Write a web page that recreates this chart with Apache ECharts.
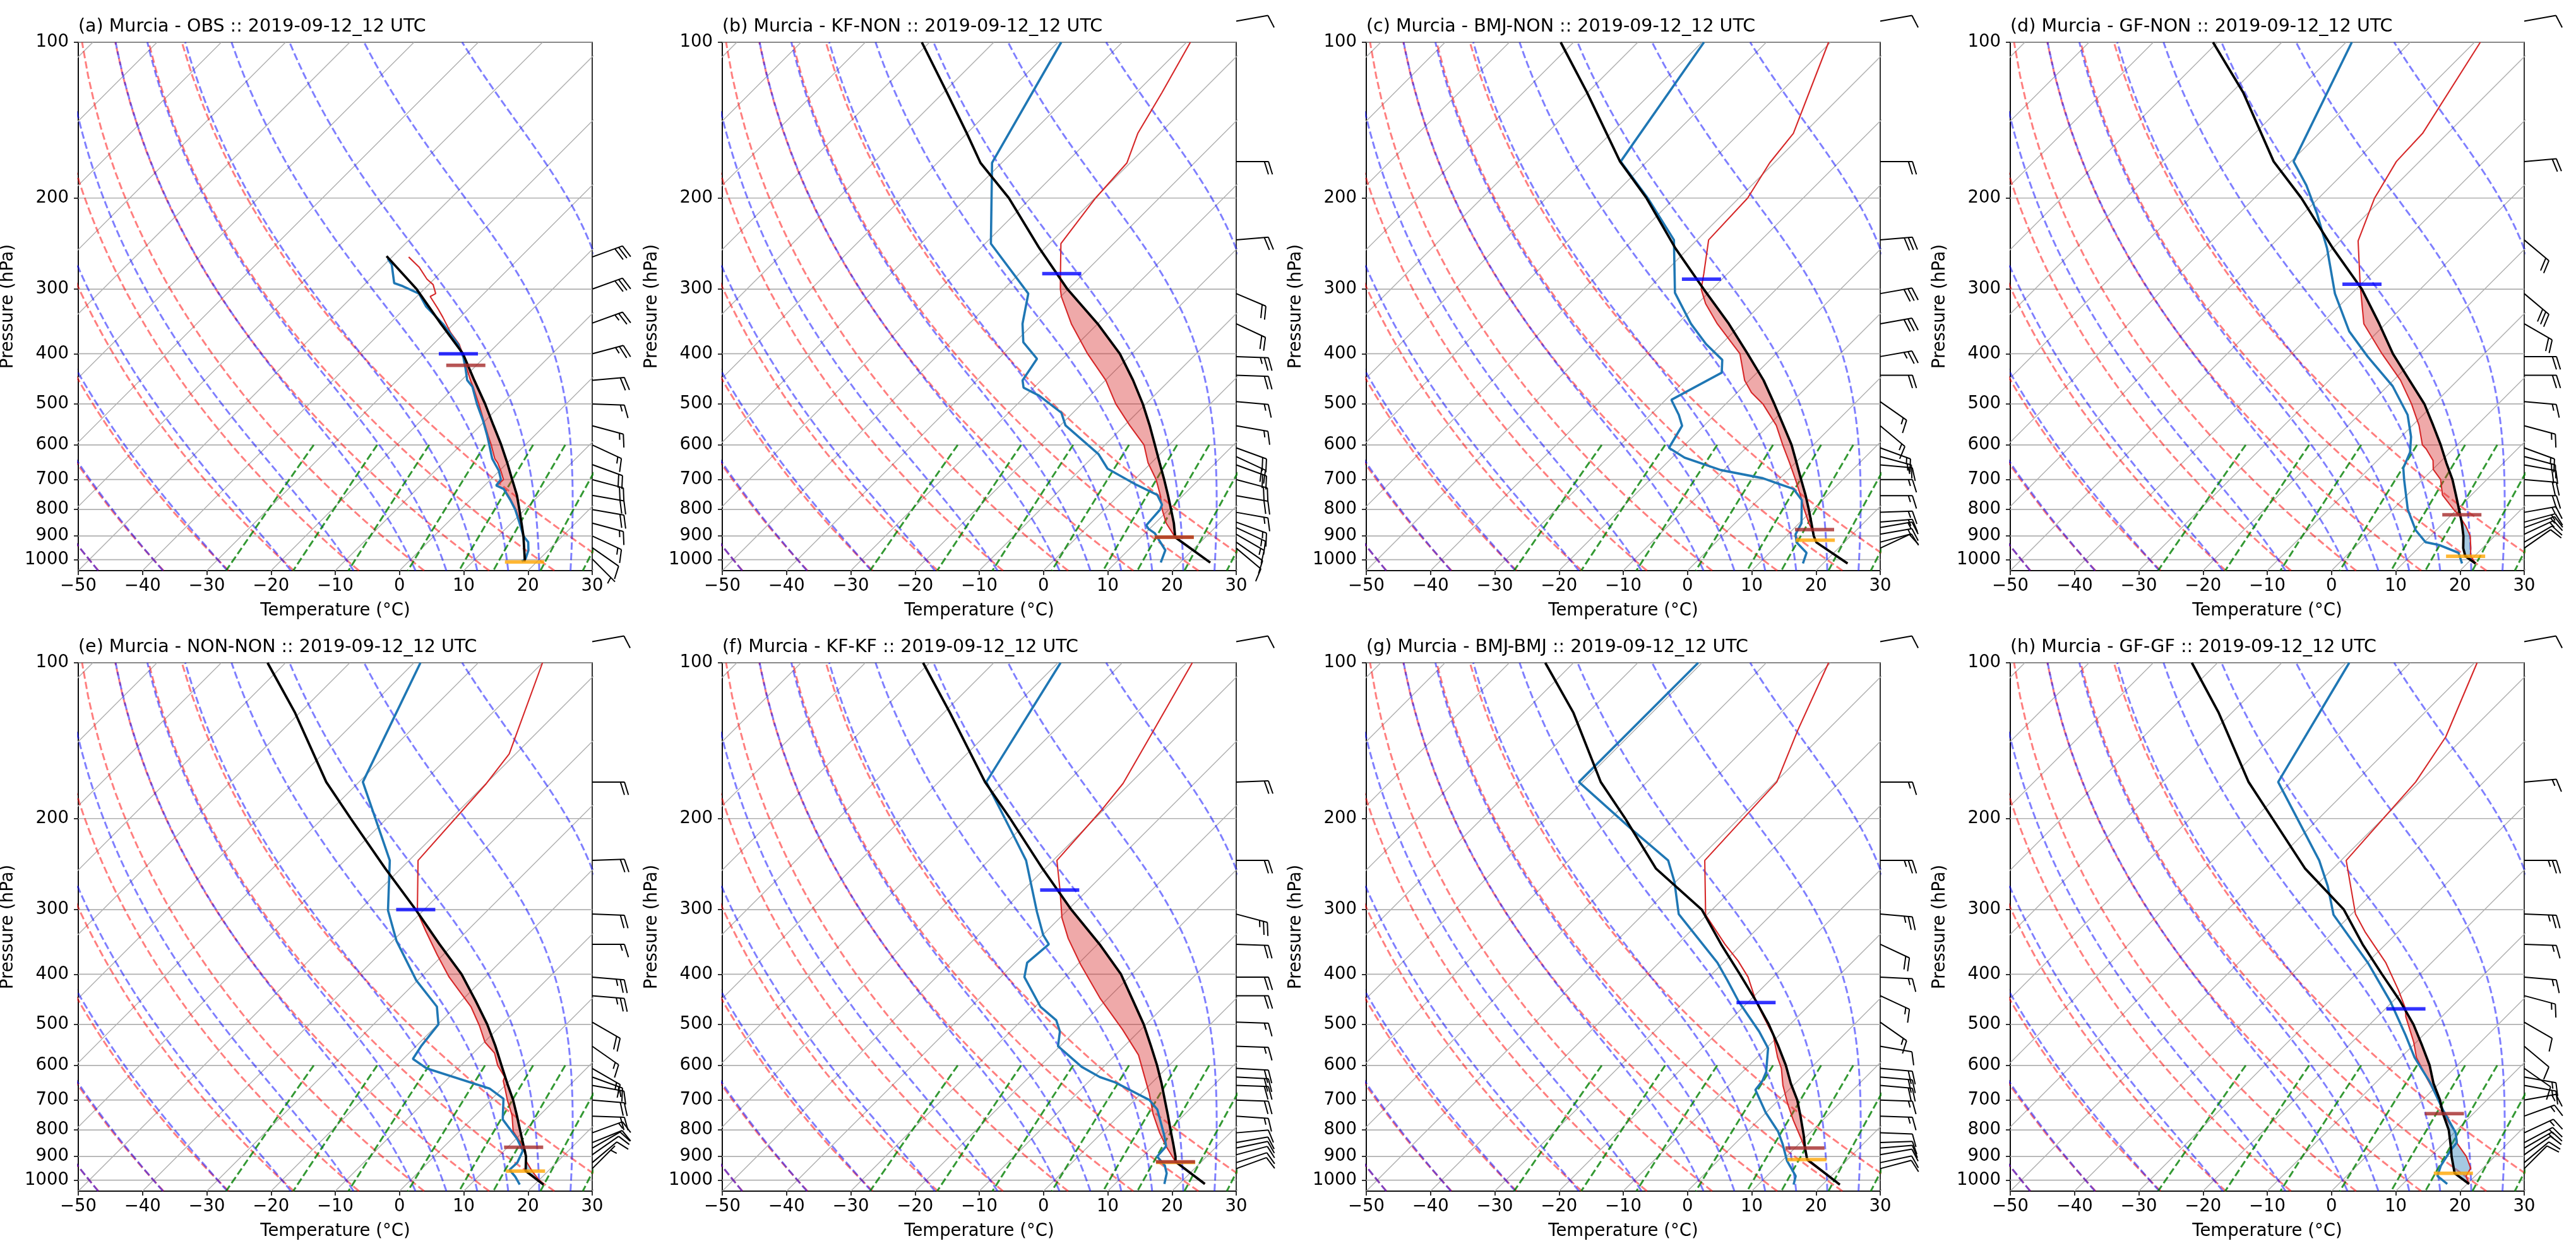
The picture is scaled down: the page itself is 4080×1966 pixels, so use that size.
<!DOCTYPE html>
<html>
<head>
<meta charset="UTF-8">
<title>Murcia skew-T 2019-09-12_12 UTC</title>
<script src="https://cdn.jsdelivr.net/npm/echarts@6.0.0/dist/echarts.min.js"></script>
<style>
  html, body { margin: 0; padding: 0; background: #fff; }
  #main { width: 4080px; height: 1966px; }
</style>
</head>
<body>
<div id="main"></div>
<script>
// ---------------- data (pressure hPa, temperature degC) ----------------
var titles = [
  '(a) Murcia - OBS :: 2019-09-12_12 UTC',
  '(b) Murcia - KF-NON :: 2019-09-12_12 UTC',
  '(c) Murcia - BMJ-NON :: 2019-09-12_12 UTC',
  '(d) Murcia - GF-NON :: 2019-09-12_12 UTC',
  '(e) Murcia - NON-NON :: 2019-09-12_12 UTC',
  '(f) Murcia - KF-KF :: 2019-09-12_12 UTC',
  '(g) Murcia - BMJ-BMJ :: 2019-09-12_12 UTC',
  '(h) Murcia - GF-GF :: 2019-09-12_12 UTC'
];
var pressureTicks = [100, 200, 300, 400, 500, 600, 700, 800, 900, 1000];

var obsTemp = [[1008,18.0],[1000,17.8],[975,16.8],[950,15.9],[925,14.9],[900,13.9],[850,11.5],[800,8.6],[766,6.3],[730,3.6],[719,1.9],[700,2.0],[673,0.2],[650,-1.5],[638,-2.6],[600,-5.3],[576,-7.2],[538,-10.3],[500,-13.6],[463,-17.2],[450,-18.6],[427,-21.0],[406,-23.2],[383,-26.0],[364,-29.1],[340,-32.7],[329,-34.5],[310,-37.9],[306,-37.5],[294,-39.3],[287,-41.1],[272,-44.2],[260,-47.4]];
var obsDew = [[1008,17.6],[997,17.8],[959,16.9],[925,15.6],[900,13.9],[850,11.3],[800,8.5],[766,6.2],[730,3.5],[719,1.8],[700,1.6],[673,-0.1],[638,-3.0],[600,-5.6],[576,-7.35],[538,-10.4],[500,-13.9],[463,-17.3],[450,-19.1],[427,-21.2],[406,-23.3],[383,-26.2],[351,-31.5],[324,-37.0],[306,-40.1],[296,-43.8],[292,-45.6],[269,-48.85],[262,-50.4]];
var obsParcel = [[1008,18.0],[1000,17.8],[950,15.9],[900,13.9],[850,11.6],[800,9.15],[750,6.5],[700,3.35],[650,0.0],[600,-3.74],[550,-8.0],[500,-12.63],[450,-18.0],[400,-23.88],[350,-32.0],[300,-41.16],[259,-50.98]];

var kfNonTemp = [[1013,24.7],[905,15.3],[850,11.7],[800,8.96],[750,6.4],[700,3.35],[650,-0.5],[600,-3.93],[550,-9.2],[500,-14.7],[450,-19.95],[400,-26.9],[350,-34.1],[310,-39.9],[300,-41.2],[280,-43.6],[245,-48.2],[200,-49.9],[171,-50.5],[150,-53.4],[125,-56.0],[100,-59.4]];
var kfNonDew = [[1013,17.0],[959,15.8],[889,11.5],[872,9.85],[858,8.94],[800,8.64],[783,8.18],[750,5.95],[716,1.0],[667,-5.9],[625,-9.6],[550,-19.2],[520,-21.8],[482,-27.9],[465,-31.6],[450,-32.9],[409,-34.0],[380,-38.7],[350,-41.7],[306,-45.5],[245,-59.1],[171,-71.5],[100,-79.5]];
var kfNonParcel = [[1013,24.7],[905,15.3],[850,12.9],[800,10.34],[750,7.6],[700,4.6],[650,1.3],[600,-2.24],[550,-6.1],[500,-10.5],[450,-15.7],[400,-21.88],[350,-30.0],[300,-40.1],[250,-50.85],[200,-63.4],[171,-73.3],[150,-80.0],[125,-89.5],[100,-101.2]];

var bmjNonTemp = [[1017,23.8],[926,15.67],[900,14.26],[875,13.0],[850,11.5],[800,8.66],[750,5.8],[700,2.62],[650,-0.88],[600,-4.75],[550,-8.8],[500,-14.22],[475,-17.8],[450,-20.75],[400,-25.6],[350,-33.8],[320,-38.75],[300,-41.7],[280,-43.7],[241,-48.2],[200,-48.65],[171,-50.7],[150,-51.6],[100,-60.3]];
var bmjNonDew = [[1017,16.85],[970,15.76],[926,12.58],[893,11.16],[850,10.35],[767,6.8],[730,3.8],[713,0.58],[696,-2.65],[671,-10.5],[635,-18.05],[608,-22.0],[551,-23.4],[525,-25.6],[491,-29.1],[465,-27.5],[435,-25.5],[411,-27.4],[383,-32.4],[350,-37.9],[305,-45.2],[241,-53.6],[200,-64.2],[170,-74.1],[100,-79.7]];
var bmjNonParcel = [[1017,23.8],[926,15.67],[900,14.26],[850,11.9],[800,9.37],[750,6.6],[700,3.5],[650,0.2],[600,-3.38],[550,-7.7],[500,-12.44],[450,-17.8],[400,-24.4],[350,-32.0],[300,-41.3],[250,-52.1],[200,-64.4],[170,-74.2],[125,-90.1],[100,-102.0]];

var gfNonTemp = [[1017,21.3],[982,19.3],[948,18.1],[900,16.2],[860,13.9],[819,11.1],[800,9.5],[750,5.5],[700,2.8],[669,0.07],[643,-1.35],[611,-4.2],[600,-5.43],[550,-9.0],[500,-13.5],[450,-18.9],[400,-25.9],[350,-33.4],[300,-39.3],[293,-40.2],[242,-47.2],[200,-51.3],[170,-53.6],[150,-53.9],[100,-59.1]];
var gfNonDew = [[1017,19.2],[970,17.0],[937,12.8],[925,10.2],[877,6.8],[800,2.36],[700,-2.88],[665,-4.8],[620,-6.2],[579,-8.44],[525,-12.4],[462,-19.2],[405,-27.7],[362,-34.5],[306,-42.6],[250,-50.9],[215,-57.7],[189,-63.9],[170,-69.6],[100,-79.1]];
var gfNonParcel = [[1017,21.3],[985,18.6],[950,17.0],[900,15.14],[850,12.9],[800,10.34],[750,7.6],[700,4.64],[650,1.1],[600,-2.58],[550,-6.8],[500,-11.5],[450,-17.5],[400,-24.2],[350,-31.0],[300,-39.1],[250,-50.0],[200,-62.7],[170,-72.7],[125,-88.2],[100,-100.7]];

var nonNonTemp = [[1020,21.4],[993,19.6],[960,17.5],[918,15.0],[877,13.3],[864,12.5],[805,8.4],[749,5.7],[700,2.6],[669,0.7],[643,-1.0],[632,-1.4],[600,-4.3],[568,-6.7],[541,-9.9],[503,-13.3],[462,-17.6],[405,-25.6],[367,-30.9],[330,-36.4],[303,-40.7],[241,-48.6],[171,-49.95],[150,-51.0],[100,-60.0]];
var nonNonDew = [[1020,17.7],[985,15.8],[955,13.8],[925,13.9],[877,12.9],[831,10.1],[763,4.9],[696,1.8],[665,-1.96],[608,-14.9],[583,-18.5],[551,-19.2],[500,-19.9],[462,-22.9],[411,-30.2],[345,-39.4],[301,-45.5],[241,-53.0],[170,-69.4],[100,-79.0]];
var nonNonParcel = [[1020,21.4],[960,16.5],[900,14.3],[867,12.7],[800,9.25],[750,6.5],[700,3.5],[650,0.0],[600,-3.7],[550,-7.7],[500,-12.3],[450,-17.8],[400,-24.1],[350,-32.2],[300,-41.3],[250,-52.4],[200,-65.6],[170,-75.1],[125,-90.7],[100,-102.8]];

var kfKfTemp = [[1017,24.0],[921.6,16.0],[860,12.1],[810,9.0],[744,5.0],[680,1.27],[573,-6.4],[512,-12.8],[446,-21.1],[383,-29.5],[341,-35.5],[311,-39.7],[275,-44.3],[241,-49.4],[192,-50.3],[171,-51.1],[135,-54.6],[100,-59.1]];
var kfKfDew = [[1017,17.7],[970,16.4],[937,14.9],[900,12.3],[860,12.1],[819,10.1],[730,5.0],[700,2.3],[647,-5.8],[632,-9.0],[604,-13.4],[551,-20.3],[516,-22.3],[491,-24.6],[462,-29.2],[405,-36.3],[380,-38.1],[350,-37.6],[336,-39.9],[303,-44.5],[241,-54.2],[215,-60.2],[170,-72.6],[100,-79.6]];
var kfKfParcel = [[1017,24.0],[921.6,16.0],[900,15.15],[850,12.8],[800,10.26],[750,7.6],[700,4.7],[650,1.6],[600,-1.9],[550,-5.9],[500,-10.35],[450,-15.7],[400,-21.7],[350,-29.7],[300,-39.5],[250,-50.35],[200,-63.2],[170,-72.8],[125,-89.0],[100,-101.0]];

var bmjBmjTemp = [[1020,22.7],[918,14.0],[893,12.8],[867,11.55],[831,9.5],[767,5.5],[713,2.07],[656,-1.6],[608,-4.5],[579,-6.8],[525,-10.9],[500,-13.5],[453,-18.7],[405,-23.9],[377,-27.95],[350,-32.6],[307,-40.2],[241,-48.8],[170,-49.8],[135,-54.6],[100,-60.3]];
var bmjBmjDew = [[1020,15.5],[982,14.5],[918,10.8],[850,7.4],[805,4.8],[740,-0.07],[669,-5.2],[643,-5.5],[618,-6.3],[556,-9.7],[516,-13.7],[452,-21.5],[411,-26.6],[380,-30.9],[306,-44.5],[265,-50.2],[241,-54.5],[211,-64.6],[170,-80.6],[100,-80.6]];
var bmjBmjParcel = [[1020,22.7],[912,13.7],[867,11.6],[819,9.4],[750,5.8],[700,2.9],[650,-0.7],[600,-4.27],[550,-8.5],[500,-13.3],[450,-19.0],[400,-25.6],[350,-33.2],[300,-41.6],[250,-55.1],[200,-67.7],[170,-77.2],[125,-92.2],[100,-104.4]];

var gfGfTemp = [[1017,20.3],[982,18.6],[948,18.1],[900,15.6],[850,12.2],[810,10.3],[744,5.3],[700,2.5],[638,-2.5],[579,-7.6],[541,-10.4],[483,-15.6],[466,-16.9],[429,-20.9],[380,-27.1],[332,-35.0],[306,-39.4],[241,-49.2],[170,-50.6],[139,-52.95],[100,-59.6]];
var gfGfDew = [[1017,16.9],[981,14.1],[937,13.05],[877,12.2],[846,11.95],[810,10.25],[730,4.6],[647,-1.6],[579,-7.9],[525,-12.7],[452,-20.3],[380,-29.9],[307,-42.7],[270,-48.1],[241,-53.4],[170,-72.0],[100,-79.5]];
var gfGfParcel = [[1017,20.3],[970,16.4],[965,16.1],[900,13.3],[867,11.9],[800,8.74],[744,5.3],[700,2.7],[650,-0.9],[600,-4.3],[550,-8.5],[500,-13.2],[450,-19.0],[400,-25.9],[350,-33.6],[300,-41.9],[250,-54.3],[200,-67.2],[170,-76.6],[125,-92.0],[100,-104.0]];

// LCL (orange), LFC (brown), EL (blue) per panel, [p, T]
var lclPoints = [[1010,18.1],[905,15.15],[917,15.15],[985,18.64],[960.6,16.5],[924,16.1],[912.5,13.67],[970,16.2]];
var lfcPoints = [[421,-21.65],[905,15.15],[875,13.4],[819,11.6],[864,12.5],[921.6,15.98],[867,11.58],[744,5.52]];
var elPoints  = [[400,-24.6],[280,-43.4],[287,-43.2],[293.5,-39.85],[300,-41.3],[275,-44.35],[453.5,-18.7],[466.5,-16.8]];

// wind barbs: pressure, direction (deg, from), speed (kt)
var obsBarbP   = [260,300,349,400,450,500,551,600,655,700,751,800,850,900,948,997];
var obsBarbDir = [70,70,70,75,85,92,105,115,110,105,100,100,105,115,125,135];
var obsBarbSpd = [30,30,25,25,20,15,15,15,20,20,20,20,15,15,10,5];
var modelBarbP = [91,170,241,306,350,405,440,495,551,608,632,656,700,752,810,846,867,893,925,950];
var modelBarbDir = [
  [80,90,85,113,115,92,92,95,100,110,115,110,105,100,100,110,115,120,125,130],
  [80,90,85,80,80,80,90,125,130,110,105,95,90,90,88,85,80,80,75,65],
  [80,85,130,130,120,90,90,95,105,110,105,100,95,90,80,75,70,65,60,55],
  [80,90,88,92,90,95,95,120,125,120,110,100,95,92,70,68,60,55,50,45],
  [80,88,90,105,92,90,90,92,92,93,93,92,92,94,85,80,78,75,72,70],
  [80,90,90,95,115,93,115,125,100,95,95,95,92,92,92,88,85,80,78,75],
  [80,85,90,92,92,95,105,120,130,125,100,100,80,70,65,62,60,55,50,45]
];
var modelBarbSpd = [
  [10,20,20,20,20,25,20,15,15,20,20,20,20,20,15,15,15,15,10,10],
  [10,20,30,30,30,25,20,15,15,15,15,15,15,15,15,15,15,15,10,10],
  [10,20,20,30,20,20,20,15,15,15,15,20,20,20,15,15,15,15,10,10],
  [10,20,20,20,15,25,25,20,15,15,15,15,20,20,15,10,10,10,10,5],
  [10,20,20,25,20,20,20,15,15,20,20,20,20,15,10,10,10,10,10,10],
  [10,15,25,25,20,15,15,15,10,20,20,20,15,15,10,10,10,10,10,10],
  [10,15,25,25,15,15,15,10,10,10,15,15,15,15,15,15,15,10,10,10]
];

// background reference lines (MetPy defaults)
var dryAdiabatT0 = [-50, -40, -30, -20, -10, 0, 10, 20, 30];
var moistAdiabatT0 = [-50, -40, -30, -20, -10, 0, 5, 10, 15, 20, 25, 30];
var mixingRatios = [0.0004, 0.001, 0.002, 0.004, 0.007, 0.01, 0.016, 0.024, 0.032];

// ---------------- layout / skew transform ----------------
var GW = 814, GH = 837;
var colLeft = [124, 1144, 2164, 3184];
var rowTop = [67, 1050];
var P_BOT = 1050, P_TOP = 100;
var SKEW = 80 * GH / GW;   // 45 degree isotherms in pixel space
var LN_SPAN = Math.log(P_BOT / P_TOP);
var FONT = '"DejaVu Sans", "Liberation Sans", sans-serif';

function fracP(p) { return Math.log(P_BOT / p) / LN_SPAN; }
function sk(T, p) { return [T + SKEW * fracP(p), Math.log10(p)]; }
function toSkew(prof) { return prof.map(function (d) { return sk(d[1], d[0]); }); }

function joinLines(lines) {
  var out = [];
  lines.forEach(function (ln, i) {
    if (i) out.push(['-', '-']);
    ln.forEach(function (pt) { out.push(pt); });
  });
  return out;
}

// thermodynamic helpers for the reference curves
var RD = 287.04749, CPD = 1004.6662, LV = 2.50084e6, EPS = 0.6219569, KAPPA = RD / CPD;
function satVap(Tk) { var tc = Tk - 273.15; return 6.112 * Math.exp(17.67 * tc / (tc + 243.5)); }
function moistRate(p, T) {
  var es = satVap(T), rs = EPS * es / (p - es);
  return (RD * T + LV * rs) / (CPD + LV * LV * rs * EPS / (RD * T * T)) / p;
}
function rk4(p, T, h) {
  var k1 = moistRate(p, T), k2 = moistRate(p + h / 2, T + h / 2 * k1),
      k3 = moistRate(p + h / 2, T + h / 2 * k2), k4 = moistRate(p + h, T + h * k3);
  return T + h / 6 * (k1 + 2 * k2 + 2 * k3 + k4);
}

var pLevels = [];
for (var i = 0; i <= 60; i++) pLevels.push(P_BOT + (P_TOP - P_BOT) * i / 60);

var isotherms = [];
for (var t = -140; t <= 30; t += 10) isotherms.push([sk(t, P_BOT), sk(t, P_TOP)]);
var hGrid = pressureTicks.map(function (p) { return [[-50, Math.log10(p)], [30, Math.log10(p)]]; });

var dryLines = dryAdiabatT0.map(function (t0) {
  return pLevels.map(function (p) { return sk((t0 + 273.15) * Math.pow(p / 1000, KAPPA) - 273.15, p); });
});

var moistLines = moistAdiabatT0.map(function (t0) {
  var low = [], T = t0 + 273.15, p = 1000;
  while (p < P_BOT) { T = rk4(p, T, 5); p += 5; low.push([p, T]); }
  low.reverse();
  var pts = low.concat([[1000, t0 + 273.15]]);
  T = t0 + 273.15; p = 1000;
  while (p > P_TOP) { T = rk4(p, T, -5); p -= 5; pts.push([p, T]); }
  return pts.map(function (d) { return sk(d[1] - 273.15, d[0]); });
});

var mixLines = mixingRatios.map(function (w) {
  var pts = [];
  for (var j = 0; j <= 30; j++) {
    var p = 600 + (P_BOT - 600) * j / 30;
    var e = p * w / (EPS + w), v = Math.log(e / 6.112);
    pts.push(sk(243.5 * v / (17.67 - v), p));
  }
  return pts;
});

// ---------------- CAPE / CIN polygons ----------------
function interpProfile(prof, p) {
  for (var i = 0; i < prof.length - 1; i++) {
    var p1 = prof[i][0], p2 = prof[i + 1][0];
    if (p <= p1 && p >= p2) {
      var f = Math.log(p1 / p) / Math.log(p1 / p2);
      return prof[i][1] + f * (prof[i + 1][1] - prof[i][1]);
    }
  }
  return null;
}
function buildFill(temp, parcel, lfcP, cape) {
  var pHi = Math.min(temp[0][0], parcel[0][0]);
  var pLo = Math.max(temp[temp.length - 1][0], parcel[parcel.length - 1][0]);
  var n = 700, polys = [], run = null;
  for (var i = 0; i <= n; i++) {
    var p = pHi * Math.pow(pLo / pHi, i / n);
    var t = interpProfile(temp, p), tp = interpProfile(parcel, p);
    var inside = t !== null && tp !== null &&
      (cape ? tp - t > 0.02 : (t - tp > 0.02 && p > lfcP));
    if (inside) {
      if (!run) run = { a: [], b: [] };
      run.a.push(sk(tp, p)); run.b.push(sk(t, p));
    } else if (run) {
      polys.push(run.a.concat(run.b.reverse())); run = null;
    }
  }
  if (run) polys.push(run.a.concat(run.b.reverse()));
  return polys;
}

// ---------------- panels ----------------
var panels = [
  { temp: obsTemp, dew: obsDew, parcel: obsParcel, bp: obsBarbP, bd: obsBarbDir, bs: obsBarbSpd },
  { temp: kfNonTemp, dew: kfNonDew, parcel: kfNonParcel, bp: modelBarbP, bd: modelBarbDir[0], bs: modelBarbSpd[0] },
  { temp: bmjNonTemp, dew: bmjNonDew, parcel: bmjNonParcel, bp: modelBarbP, bd: modelBarbDir[1], bs: modelBarbSpd[1] },
  { temp: gfNonTemp, dew: gfNonDew, parcel: gfNonParcel, bp: modelBarbP, bd: modelBarbDir[2], bs: modelBarbSpd[2] },
  { temp: nonNonTemp, dew: nonNonDew, parcel: nonNonParcel, bp: modelBarbP, bd: modelBarbDir[3], bs: modelBarbSpd[3] },
  { temp: kfKfTemp, dew: kfKfDew, parcel: kfKfParcel, bp: modelBarbP, bd: modelBarbDir[4], bs: modelBarbSpd[4] },
  { temp: bmjBmjTemp, dew: bmjBmjDew, parcel: bmjBmjParcel, bp: modelBarbP, bd: modelBarbDir[5], bs: modelBarbSpd[5] },
  { temp: gfGfTemp, dew: gfGfDew, parcel: gfGfParcel, bp: modelBarbP, bd: modelBarbDir[6], bs: modelBarbSpd[6] }
];

function barbRender(params, api) {
  var base = api.coord([30, Math.log10(api.value(0))]);
  var d = api.value(1) * Math.PI / 180;
  var s = [Math.sin(d), -Math.cos(d)], nrm = [Math.cos(d), Math.sin(d)];
  function pt(a, b) { return [base[0] + s[0] * a + nrm[0] * b, base[1] + s[1] * a + nrm[1] * b]; }
  var L = 51, FH = 20.4, FW = 12.76, SP = 6.38;
  var st = { stroke: '#000', lineWidth: 2, fill: '#000' };
  var kids = [{ type: 'polyline', shape: { points: [base, pt(L, 0)] }, style: st }];
  var mag = 5 * Math.round(api.value(2) / 5);
  var nFlag = Math.floor(mag / 50), nBarb = Math.floor((mag % 50) / 10), half = (mag % 10) >= 5;
  var off = L, k;
  for (k = 0; k < nFlag; k++) {
    if (off !== L) off += SP / 2;
    kids.push({ type: 'polygon', shape: { points: [pt(off, 0), pt(off - FW / 2, FH), pt(off - FW, 0)] }, style: st });
    off -= FW + SP;
  }
  for (k = 0; k < nBarb; k++) {
    kids.push({ type: 'polyline', shape: { points: [pt(off, 0), pt(off + FW / 2, FH)] }, style: st });
    off -= SP;
  }
  if (half) {
    if (off === L) off -= 1.5 * SP;
    kids.push({ type: 'polyline', shape: { points: [pt(off, 0), pt(off + FW / 4, FH / 2)] }, style: st });
  }
  return { type: 'group', children: kids };
}

function fillSeries(idx, polys, color) {
  return {
    type: 'custom', xAxisIndex: idx, yAxisIndex: idx, z: 3, silent: true,
    data: [[0, 2.5]],
    renderItem: function (params, api) {
      return {
        type: 'group',
        children: polys.map(function (poly) {
          return { type: 'polygon', shape: { points: poly.map(function (q) { return api.coord(q); }) },
                   style: { fill: color, stroke: null } };
        })
      };
    }
  };
}

var grids = [], xAxes = [], yAxes = [], series = [], graphics = [];
var yTickVals = pressureTicks.map(function (p) { return Math.log10(p); });

panels.forEach(function (pn, i) {
  var left = colLeft[i % 4], top = rowTop[Math.floor(i / 4)];
  grids.push({ left: left, top: top, width: GW, height: GH, show: true,
               borderColor: '#000', borderWidth: 1.6, backgroundColor: 'transparent' });
  xAxes.push({
    gridIndex: i, type: 'value', min: -50, max: 30, interval: 10,
    axisLine: { onZero: false, lineStyle: { color: '#000', width: 1.6 } },
    axisTick: { length: 7, lineStyle: { color: '#000', width: 1.6 } },
    axisLabel: { color: '#000', fontFamily: FONT, fontSize: 27.5, margin: 11,
                 formatter: function (v) { return v < 0 ? '\u2212' + Math.abs(v) : String(v); } },
    splitLine: { show: false }
  });
  yAxes.push({
    gridIndex: i, type: 'value', inverse: true, min: 2, max: Math.log10(P_BOT),
    axisLine: { onZero: false, lineStyle: { color: '#000', width: 1.6 } },
    axisTick: { length: 7, customValues: yTickVals, lineStyle: { color: '#000', width: 1.6 } },
    axisLabel: { color: '#000', fontFamily: FONT, fontSize: 27.5, margin: 15, customValues: yTickVals,
                 formatter: function (v) { return String(Math.round(Math.pow(10, v))); } },
    splitLine: { show: false }
  });

  function bg(lines, color, width, dash, z) {
    series.push({ type: 'line', xAxisIndex: i, yAxisIndex: i, data: joinLines(lines), showSymbol: false,
                  symbol: 'none', silent: true, z: z, clip: true, connectNulls: false,
                  lineStyle: { color: color, width: width, type: dash } });
  }
  bg(hGrid, '#b0b0b0', 1.7, 'solid', 1);
  bg(isotherms, '#b0b0b0', 1.5, 'solid', 1);
  bg(dryLines, 'rgba(255,0,0,0.5)', 3, [11.6, 5], 2);
  bg(moistLines, 'rgba(0,0,255,0.5)', 3, [11.6, 5], 2);
  bg(mixLines, 'rgba(0,128,0,0.8)', 3, [11.6, 5], 2);

  var lfcP = lfcPoints[i][0];
  series.push(fillSeries(i, buildFill(pn.temp, pn.parcel, lfcP, true), 'rgba(214,39,40,0.4)'));
  series.push(fillSeries(i, buildFill(pn.temp, pn.parcel, lfcP, false), 'rgba(31,119,180,0.4)'));

  function prof(data, color, width, z) {
    series.push({ type: 'line', xAxisIndex: i, yAxisIndex: i, data: toSkew(data), showSymbol: false,
                  symbol: 'none', silent: true, z: z, clip: true, lineStyle: { color: color, width: width } });
  }
  prof(pn.temp, '#d62728', 2.1, 4);
  prof(pn.dew, '#1f77b4', 3.6, 5);
  prof(pn.parcel, '#000000', 3.8, 6);

  [[lclPoints, '#ffa500'], [lfcPoints, '#a52a2a'], [elPoints, '#0000ff']].forEach(function (m, k) {
    series.push({ type: 'scatter', xAxisIndex: i, yAxisIndex: i, silent: true, z: 7 + k * 0.1,
                  symbol: 'rect', symbolSize: [62, 5.5], itemStyle: { color: m[1] },
                  data: [sk(m[0][i][1], m[0][i][0])] });
  });

  series.push({ type: 'custom', xAxisIndex: i, yAxisIndex: i, z: 8, silent: true, clip: false,
                data: pn.bp.map(function (p, k) { return [p, pn.bd[k], pn.bs[k]]; }),
                dimensions: ['p', 'dir', 'spd'], encode: { x: -1, y: -1 },
                renderItem: barbRender });

  var txt = { fill: '#000', fontFamily: FONT };
  graphics.push({ type: 'text', x: left, y: top - 24, silent: true,
                  style: Object.assign({ text: titles[i], fontSize: 28.5, align: 'left', verticalAlign: 'middle' }, txt) });
  graphics.push({ type: 'text', x: left + GW / 2, y: top + GH + 64, silent: true,
                  style: Object.assign({ text: 'Temperature (\u00b0C)', fontSize: 27.5, align: 'center', verticalAlign: 'middle' }, txt) });
  graphics.push({ type: 'text', x: left - 111, y: top + GH / 2, rotation: Math.PI / 2, silent: true,
                  style: Object.assign({ text: 'Pressure (hPa)', fontSize: 27.5, align: 'center', verticalAlign: 'middle' }, txt) });
});

var chart = echarts.init(document.getElementById('main'), null, { renderer: 'canvas' });
chart.setOption({
  animation: false,
  backgroundColor: '#ffffff',
  grid: grids,
  xAxis: xAxes,
  yAxis: yAxes,
  series: series,
  graphic: graphics
});
</script>
</body>
</html>
